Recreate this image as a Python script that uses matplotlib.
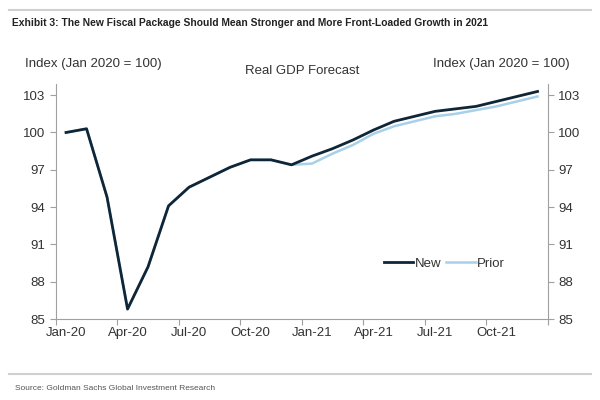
import matplotlib.pyplot as plt
import numpy as np

# monthly index, Jan 2020 = 100
months = ['Jan-20', 'Feb-20', 'Mar-20', 'Apr-20', 'May-20', 'Jun-20',
          'Jul-20', 'Aug-20', 'Sep-20', 'Oct-20', 'Nov-20', 'Dec-20',
          'Jan-21', 'Feb-21', 'Mar-21', 'Apr-21', 'May-21', 'Jun-21',
          'Jul-21', 'Aug-21', 'Sep-21', 'Oct-21', 'Nov-21', 'Dec-21']
new = [100.0, 100.3, 94.8, 85.8, 89.2, 94.1, 95.6, 96.4, 97.2, 97.8, 97.8, 97.4,
       98.1, 98.7, 99.4, 100.2, 100.9, 101.3, 101.7, 101.9, 102.1, 102.5, 102.9, 103.3]
prior = [100.0, 100.3, 94.8, 85.8, 89.2, 94.1, 95.6, 96.4, 97.2, 97.8, 97.8, 97.4,
         97.5, 98.3, 99.0, 99.9, 100.5, 100.9, 101.3, 101.5, 101.8, 102.1, 102.5, 102.9]
yticks = [85, 88, 91, 94, 97, 100, 103]

navy = '#0f2638'
light = '#a8d0e8'
grey = '#a0a0a0'
txt = '#333333'
plt.rcParams['font.family'] = ['Liberation Sans', 'DejaVu Sans']

fig = plt.figure(figsize=(6, 4), dpi=100)
ax = fig.add_axes([0.093, 0.2025, 0.82, 0.5875])

x = np.arange(len(months))
ax.plot(x, prior, color=light, lw=1.8, label='Prior', zorder=2)
ax.plot(x, new, color=navy, lw=2.0, label='New', zorder=3)

ax.set_xlim(-0.5, len(months) - 0.5)
ax.set_ylim(85, 103.9)
ax.set_yticks(yticks)
ax.set_xticks(np.arange(-0.5, len(months), 3))
ax.set_xticklabels([])
ax.set_xticks(x[::3], minor=True)
ax.set_xticklabels(months[::3], minor=True)
ax.tick_params(axis='x', which='minor', length=0, pad=6, labelsize=9.5, labelcolor=txt)
ax.tick_params(axis='x', which='major', length=4, color=grey)
ax.tick_params(axis='y', length=4, color=grey, labelsize=9.5, labelcolor=txt,
               right=True, labelright=True)

for s in ['left', 'right', 'bottom']:
    ax.spines[s].set_color(grey)
ax.spines['top'].set_visible(False)

h, l = ax.get_legend_handles_labels()
ax.legend(h[::-1], l[::-1], loc='center', bbox_to_anchor=(0.79, 0.235), ncol=2,
          frameon=False, fontsize=9.5, handlelength=2.2, handletextpad=0.1,
          columnspacing=0.4, labelcolor=txt)

fig.text(0.02, 0.942, 'Exhibit 3: The New Fiscal Package Should Mean Stronger and More Front-Loaded Growth in 2021',
         fontsize=7.4, fontweight='bold', color='#222222', va='center')
fig.text(0.042, 0.84, 'Index (Jan 2020 = 100)', fontsize=9.5, color=txt, va='center')
fig.text(0.95, 0.84, 'Index (Jan 2020 = 100)', fontsize=9.5, color=txt, va='center', ha='right')
fig.text(0.503, 0.823, 'Real GDP Forecast', fontsize=9.5, color=txt, va='center', ha='center')
fig.text(0.025, 0.03, 'Source: Goldman Sachs Global Investment Research',
         fontsize=6, color='#555555', va='center')

fig.add_artist(plt.Line2D([0.015, 0.985], [0.975, 0.975], color='#d0d0d0', lw=1.5))
fig.add_artist(plt.Line2D([0.015, 0.985], [0.065, 0.065], color='#d0d0d0', lw=1.5))

fig.savefig('out.png', dpi=100)
